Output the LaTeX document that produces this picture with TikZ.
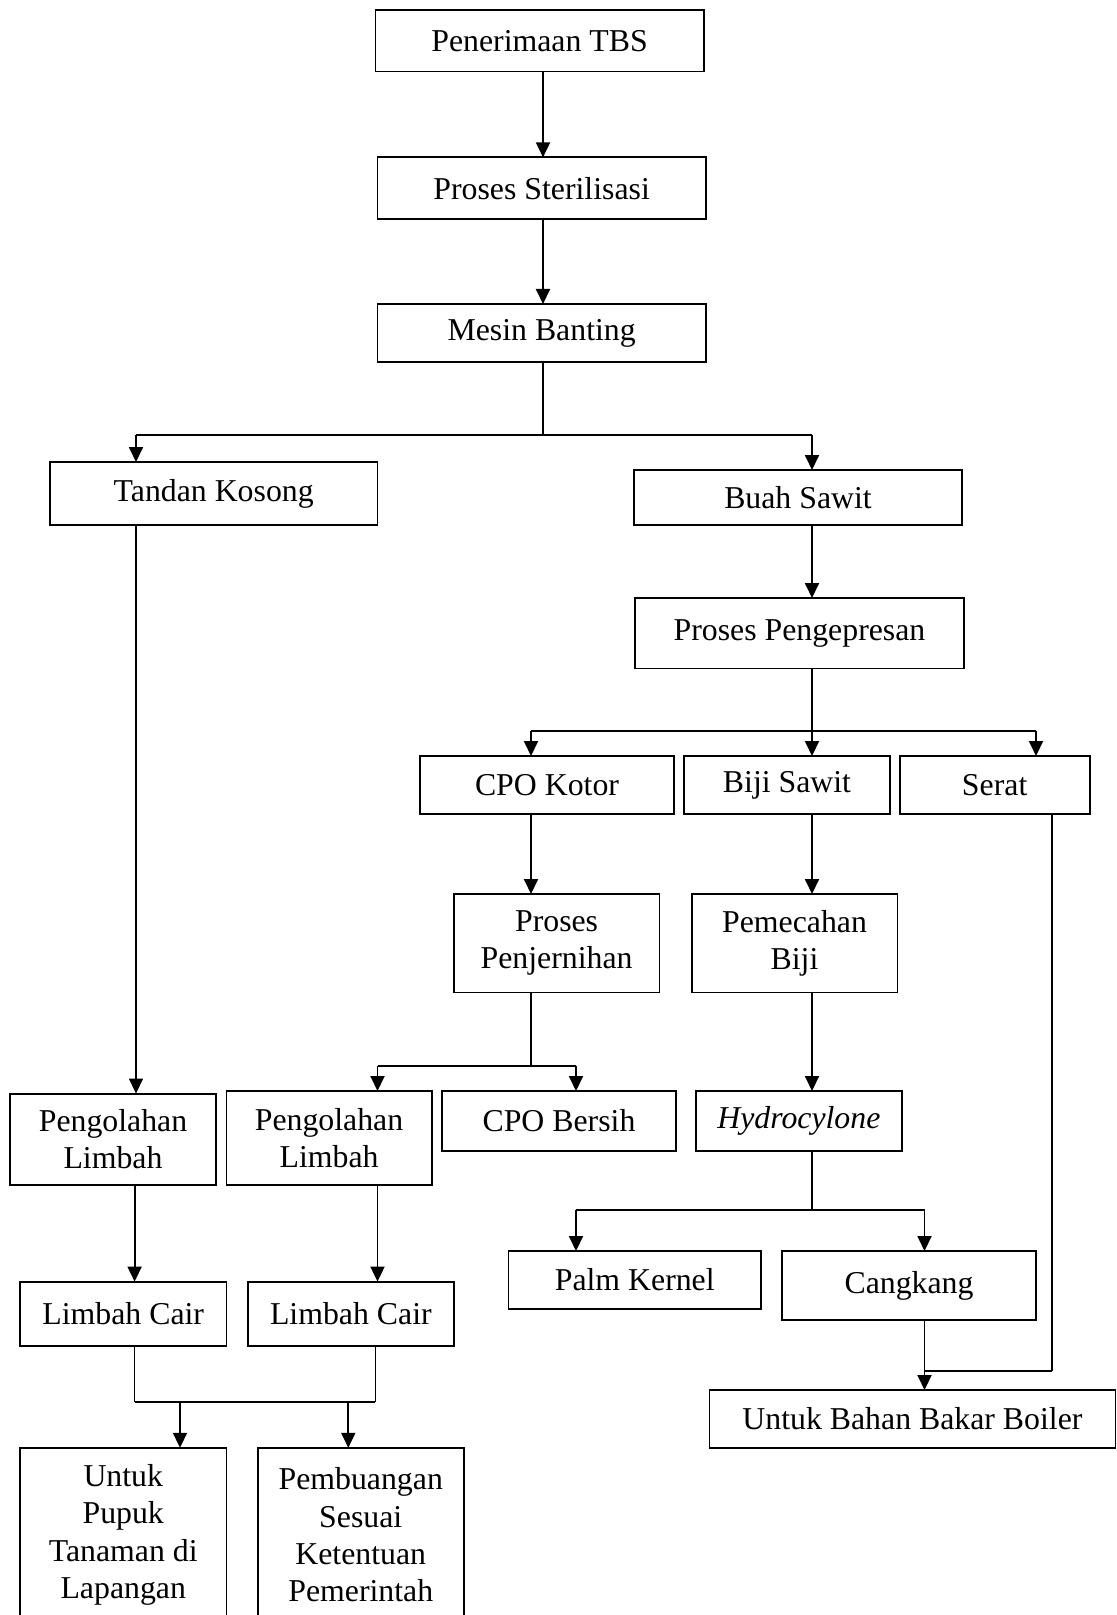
\documentclass[tikz,border=0pt]{standalone}
\usepackage{fontspec}
\setmainfont{Liberation Serif}
\usetikzlibrary{arrows.meta,calc}
\newcommand\bx[6]{\node[box, minimum width={(#4-#2)*0.5pt}, minimum height={(#5-#3)*0.5pt}] (#1) at ({(#2+#4)/2},{(#3+#5)/2}) {#6};}
\begin{document}
\begin{tikzpicture}[x=0.5pt,y=-0.5pt,
  box/.style={draw, rectangle, inner sep=0pt, outer sep=0pt, align=center, line width=0.9pt,
    font=\fontsize{15.9pt}{18.6pt}\selectfont},
  arr/.style={line width=0.95pt, -{Triangle[length=7.5pt,width=7pt]}},
  bar/.style={line width=0.95pt},
  stem/.style={line width=0.6pt}]
\useasboundingbox (0,0) rectangle (1117,1615);
% boxes
\bx{tbs}{375.4}{10.3}{703.7}{71.6}{Penerimaan TBS}
\bx{ster}{377.5}{157.4}{705.8}{219}{Proses Sterilisasi}
\bx{mb}{377.5}{304}{705.8}{362}{Mesin Banting}
\bx{tk}{49.9}{462}{377.5}{525}{Tandan Kosong}
\bx{bs}{634}{470}{962}{525}{Buah Sawit}
\bx{pp}{635}{598}{964}{668.4}{Proses Pengepresan}
\bx{ck}{420}{756}{674}{813.8}{CPO Kotor}
\bx{bj}{684}{756}{890}{813.8}{Biji Sawit}
\bx{sr}{899.6}{756}{1089.7}{813.8}{Serat}
\bx{pj}{453.7}{894}{659.5}{992.5}{Proses\\Penjernihan}
\bx{pb}{691.6}{894}{897.4}{992.5}{Pemecahan\\Biji}
\bx{pl1}{10}{1093.6}{216}{1185}{Pengolahan\\Limbah}
\bx{pl2}{226.5}{1091}{431.6}{1185}{Pengolahan\\Limbah}
\bx{cb}{442}{1091}{676}{1150.6}{CPO Bersih}
\bx{hy}{696}{1091}{901.7}{1150.6}{\itshape Hydrocylone}
\bx{pk}{508.5}{1251}{761}{1309}{Palm Kernel}
\bx{cg}{782}{1251}{1036}{1320}{Cangkang}
\bx{lc1}{20}{1281.6}{226.5}{1345.8}{Limbah Cair}
\bx{lc2}{248}{1281.6}{453.7}{1345.8}{Limbah Cair}
\bx{bb}{709.4}{1390}{1115.5}{1448}{Untuk Bahan Bakar Boiler}
\bx{up}{20}{1447.8}{226.5}{1622}{Untuk\\Pupuk\\Tanaman di\\Lapangan}
\bx{pe}{257.8}{1447.8}{463.7}{1622}{Pembuangan\\Sesuai\\Ketentuan\\Pemerintah}
% column coordinates
\coordinate (cA) at (136,0);
\coordinate (cB) at (377.5,0);
\coordinate (cC) at (531,0);
\coordinate (cD) at (576,0);
\coordinate (cE) at (812,0);
\coordinate (cF) at (924.5,0);
\coordinate (cG) at (1036,0);
\coordinate (cH) at (1052,0);
\coordinate (cM) at (543,0);
\coordinate (cL1) at (134.6,0);
\coordinate (cL2) at (375.4,0);
\coordinate (cU) at (180,0);
\coordinate (cP) at (348.3,0);
% junction coordinates
\coordinate (j1) at (543,434.6);
\coordinate (j2) at (812,730.8);
\coordinate (j3) at (531,1065.8);
\coordinate (j4) at (812,1210);
\coordinate (j5) at (255,1401.7);
\coordinate (jS) at (924.5,1370.7);
% connectors
\draw[arr] (cM |- tbs.south) -- (cM |- ster.north);
\draw[arr] (cM |- ster.south) -- (cM |- mb.north);
\draw[stem] (cM |- mb.south) -- (j1);
\draw[bar] (cA |- j1) -- (cE |- j1);
\draw[arr] (cA |- j1) -- (cA |- tk.north);
\draw[arr] (cE |- j1) -- (cE |- bs.north);
\draw[arr] (cE |- bs.south) -- (cE |- pp.north);
\draw[stem] (cE |- pp.south) -- (j2);
\draw[bar] (cC |- j2) -- (cG |- j2);
\draw[arr] (cC |- j2) -- (cC |- ck.north);
\draw[arr] (j2) -- (cE |- bj.north);
\draw[arr] (cG |- j2) -- (cG |- sr.north);
\draw[arr] (cC |- ck.south) -- (cC |- pj.north);
\draw[arr] (cE |- bj.south) -- (cE |- pb.north);
\draw[stem] (cC |- pj.south) -- (j3);
\draw[bar] (cB |- j3) -- (cD |- j3);
\draw[arr] (cB |- j3) -- (cB |- pl2.north);
\draw[arr] (cD |- j3) -- (cD |- cb.north);
\draw[stem, -{Triangle[length=7.5pt,width=7pt]}] (cA |- tk.south) -- (cA |- pl1.north);
\draw[arr] (cE |- pb.south) -- (cE |- hy.north);
\draw[stem] (cE |- hy.south) -- (j4);
\draw[bar] (cD |- j4) -- (cF |- j4);
\draw[arr] (cD |- j4) -- (cD |- pk.north);
\draw[arr] (cF |- j4) -- (cF |- cg.north);
\draw[arr] (cL1 |- pl1.south) -- (cL1 |- lc1.north);
\draw[arr] (cB |- pl2.south) -- (cB |- lc2.north);
\draw[stem] (cL1 |- lc1.south) |- (j5);
\draw[stem] (cL2 |- lc2.south) |- (j5);
\draw[bar] (cL1 |- j5) -- (cL2 |- j5);
\draw[arr] (cU |- j5) -- (cU |- up.north);
\draw[arr] (cP |- j5) -- (cP |- pe.north);
\draw[stem] (cF |- cg.south) -- (jS);
\draw[stem] (cH |- sr.south) |- (jS);
\draw[bar] (cH |- jS) -- (jS);
\draw[arr] (jS) -- (cF |- bb.north);
\end{tikzpicture}
\end{document}
